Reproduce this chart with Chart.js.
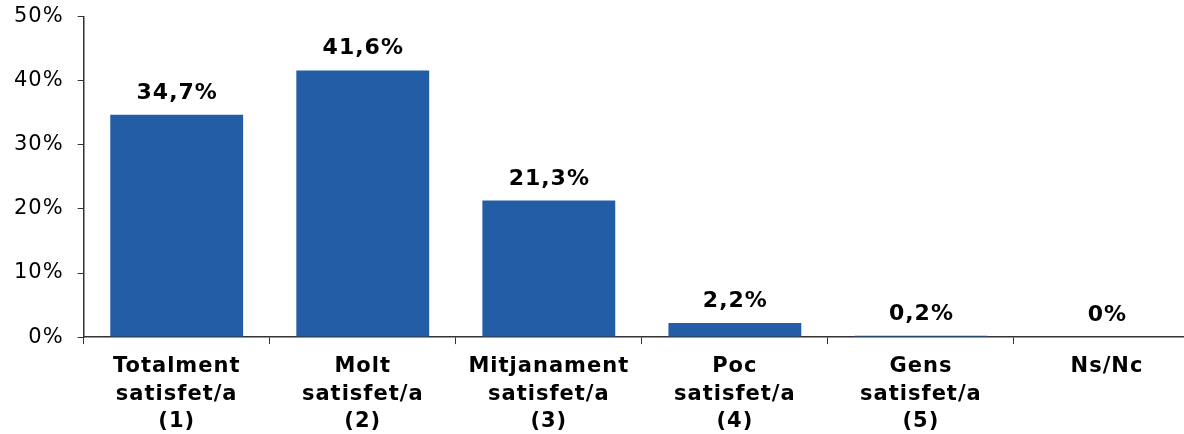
<!DOCTYPE html>
<html>
<head>
<meta charset="utf-8">
<script src="https://cdn.jsdelivr.net/npm/chart.js@4"></script>
<style>
html,body{margin:0;padding:0;background:#fff;overflow:hidden;}
#wrap{width:1200px;height:434px;overflow:hidden;position:relative;}
#c{position:absolute;left:0;top:-10px;}
</style>
</head>
<body>
<div id="wrap"><canvas id="c" width="1200" height="454"></canvas></div>
<script>
const categories = [
  ['Totalment','satisfet/a','(1)'],
  ['Molt','satisfet/a','(2)'],
  ['Mitjanament','satisfet/a','(3)'],
  ['Poc','satisfet/a','(4)'],
  ['Gens','satisfet/a','(5)'],
  ['Ns/Nc']
];
const values = [34.7, 41.6, 21.3, 2.2, 0.2, 0];
const valueLabels = ['34,7%','41,6%','21,3%','2,2%','0,2%','0%'];
const yTicks = [0, 10, 20, 30, 40, 50];

const spacing = {
  id: 'spacing',
  beforeInit(chart) { chart.ctx.letterSpacing = '1px'; },
  beforeUpdate(chart) { chart.ctx.letterSpacing = '1px'; },
  beforeDraw(chart) { chart.ctx.letterSpacing = '1px'; }
};

const barLabels = {
  id: 'barLabels',
  afterDatasetsDraw(chart) {
    const ctx = chart.ctx;
    const meta = chart.getDatasetMeta(0);
    ctx.save();
    ctx.letterSpacing = '1px';
    ctx.font = 'bold 22px "DejaVu Sans", Verdana, sans-serif';
    ctx.fillStyle = '#000';
    ctx.textAlign = 'center';
    ctx.textBaseline = 'alphabetic';
    meta.data.forEach((bar, i) => {
      ctx.fillText(valueLabels[i], bar.x + 0.5, bar.y - 16);
    });
    ctx.restore();
  }
};

new Chart(document.getElementById('c'), {
  type: 'bar',
  data: {
    labels: categories,
    datasets: [{
      data: values,
      backgroundColor: '#235DA5',
      borderWidth: 0,
      barPercentage: 0.714,
      categoryPercentage: 1.0
    }]
  },
  options: {
    responsive: false,
    animation: false,
    layout: { padding: { top: 6, left: 0, right: 0, bottom: 0 } },
    plugins: { legend: { display: false }, tooltip: { enabled: false } },
    scales: {
      x: {
        offset: true,
        grid: { display: true, drawOnChartArea: false, drawTicks: true, tickLength: 7, color: '#333', offset: true },
        border: { display: true, color: '#333', width: 1.5 },
        ticks: {
          color: '#000',
          font: { family: '"DejaVu Sans", Verdana, sans-serif', size: 21, weight: 'bold', lineHeight: 1.3 },
          padding: 9,
          maxRotation: 0,
          autoSkip: false
        }
      },
      y: {
        min: 0,
        max: 50,
        afterBuildTicks(axis) { axis.ticks = yTicks.map(v => ({ value: v })); },
        grid: { display: true, drawOnChartArea: false, drawTicks: true, tickLength: 6, color: '#333' },
        border: { display: true, color: '#333', width: 1.5 },
        ticks: {
          color: '#000',
          font: { family: '"DejaVu Sans", Verdana, sans-serif', size: 21 },
          padding: 14,
          callback: v => v + '%'
        }
      }
    }
  },
  plugins: [spacing, barLabels]
});
</script>
</body>
</html>
